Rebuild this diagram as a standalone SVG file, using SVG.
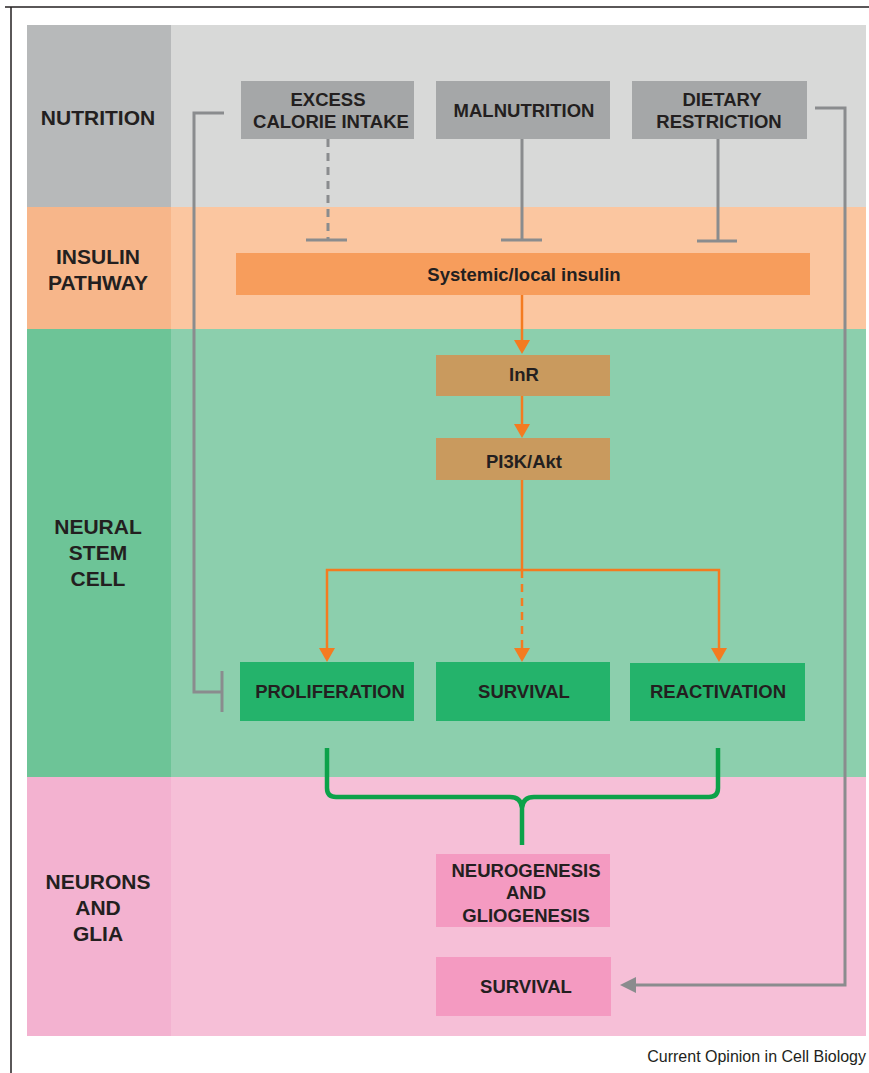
<svg xmlns="http://www.w3.org/2000/svg" width="869" height="1073" viewBox="0 0 869 1073">
<defs>
<style>
text{font-family:"Liberation Sans",Arial,sans-serif;font-weight:bold;fill:#231f20;text-anchor:middle}
.side{font-size:21px}
.box{font-size:18.5px}
.gl{stroke:#8a8c8e;stroke-width:3;fill:none}
.ol{stroke:#f47b20;stroke-width:2.5;fill:none}
.oh{fill:#f47b20}
</style>
</defs>
<rect width="869" height="1073" fill="#ffffff"/>
<g id="frame">
<line x1="5" y1="7" x2="869" y2="7" stroke="#231f20" stroke-width="1.5"/>
<line x1="11" y1="7" x2="11" y2="1073" stroke="#231f20" stroke-width="1.5"/>
</g>
<g id="bands">
<rect x="27" y="25" width="839" height="182" fill="#d8d9d8"/>
<rect x="27" y="25" width="144" height="182" fill="#b7b9ba"/>
<rect x="27" y="207" width="839" height="122" fill="#fbc6a0"/>
<rect x="27" y="207" width="144" height="122" fill="#f7b68a"/>
<rect x="27" y="329" width="839" height="448" fill="#8ccfad"/>
<rect x="27" y="329" width="144" height="448" fill="#6dc497"/>
<rect x="27" y="777" width="839" height="259" fill="#f6bfd7"/>
<rect x="27" y="777" width="144" height="259" fill="#f3b2d0"/>
</g>
<g id="labels">
<text class="side" x="98" y="125">NUTRITION</text>
<text class="side" x="98" y="264">INSULIN</text>
<text class="side" x="98" y="290">PATHWAY</text>
<text class="side" x="98" y="534">NEURAL</text>
<text class="side" x="98" y="560">STEM</text>
<text class="side" x="98" y="586">CELL</text>
<text class="side" x="98" y="889">NEURONS</text>
<text class="side" x="98" y="915">AND</text>
<text class="side" x="98" y="941">GLIA</text>
</g>
<g id="connectors">
<line class="gl" x1="328" y1="139" x2="328" y2="240" stroke-dasharray="8,6"/>
<line class="gl" x1="306" y1="240" x2="347" y2="240"/>
<line class="gl" x1="522" y1="139" x2="522" y2="240"/>
<line class="gl" x1="501" y1="240" x2="542" y2="240"/>
<line class="gl" x1="718" y1="139" x2="718" y2="241"/>
<line class="gl" x1="697" y1="241" x2="737" y2="241"/>
<polyline class="gl" points="224,113 194,113 194,692 222,692"/>
<line class="gl" x1="222" y1="671" x2="222" y2="712"/>
<polyline class="gl" points="815,108 845,108 845,985 633,985"/>
<path d="M620,985 L636,977 L636,993 Z" fill="#8a8c8e"/>
<line class="ol" x1="522" y1="295" x2="522" y2="342"/>
<path class="oh" d="M514,340 L530,340 L522,354 Z"/>
<line class="ol" x1="522" y1="396" x2="522" y2="426"/>
<path class="oh" d="M514,424 L530,424 L522,438 Z"/>
<line class="ol" x1="522" y1="480" x2="522" y2="570"/>
<polyline class="ol" points="327,650 327,570 719,570 719,650"/>
<path class="oh" d="M319,648 L335,648 L327,662 Z"/>
<path class="oh" d="M711,648 L727,648 L719,662 Z"/>
<line class="ol" x1="522" y1="570" x2="522" y2="648" stroke-dasharray="8,6"/>
<path class="oh" d="M514,648 L530,648 L522,662 Z"/>
<path d="M327,748 L327,788 Q327,797 336,797 L510,797 Q521,797 522,808 L522,845 M522,845 L522,808 Q523,797 534,797 L709,797 Q718,797 718,788 L718,748" stroke="#0ca24a" stroke-width="4.5" fill="none"/>
</g>
<g id="excess">
<rect x="241" y="81" width="173" height="58" fill="#a5a7a8"/>
<text class="box" x="328" y="106">EXCESS</text>
<text class="box" x="331" y="128">CALORIE INTAKE</text>
</g>
<g id="malnutrition">
<rect x="436" y="81" width="174" height="58" fill="#a5a7a8"/>
<text class="box" x="524" y="117">MALNUTRITION</text>
</g>
<g id="dietary">
<rect x="632" y="81" width="175" height="58" fill="#a5a7a8"/>
<text class="box" x="722" y="106">DIETARY</text>
<text class="box" x="719" y="128">RESTRICTION</text>
</g>
<g id="insulin">
<rect x="236" y="253" width="574" height="42" fill="#f79d5c"/>
<text class="box" x="524" y="281">Systemic/local insulin</text>
</g>
<g id="inr">
<rect x="436" y="355" width="174" height="41" fill="#c99a5e"/>
<text class="box" x="524" y="381">InR</text>
</g>
<g id="pi3k">
<rect x="436" y="438" width="174" height="42" fill="#c99a5e"/>
<text class="box" x="524" y="468">PI3K/Akt</text>
</g>
<g id="proliferation">
<rect x="240" y="662" width="174" height="59" fill="#24b36b"/>
<text class="box" x="330" y="698">PROLIFERATION</text>
</g>
<g id="survival-nsc">
<rect x="436" y="662" width="174" height="59" fill="#24b36b"/>
<text class="box" x="524" y="698">SURVIVAL</text>
</g>
<g id="reactivation">
<rect x="630" y="663" width="175" height="58" fill="#24b36b"/>
<text class="box" x="718" y="698">REACTIVATION</text>
</g>
<g id="neurogenesis">
<rect x="436" y="854" width="174" height="73" fill="#f49ac1"/>
<text class="box" x="526" y="877">NEUROGENESIS</text>
<text class="box" x="526" y="899">AND</text>
<text class="box" x="526" y="922">GLIOGENESIS</text>
</g>
<g id="survival-neurons">
<rect x="436" y="957" width="175" height="59" fill="#f49ac1"/>
<text class="box" x="526" y="993">SURVIVAL</text>
</g>
<text x="866" y="1062" style="font-weight:normal;font-size:16px;text-anchor:end">Current Opinion in Cell Biology</text>
</svg>
